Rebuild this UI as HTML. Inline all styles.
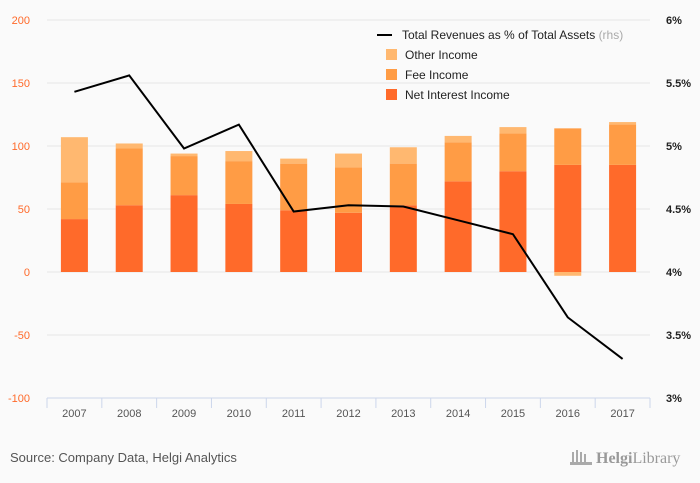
<!DOCTYPE html>
<html><head><meta charset="utf-8"><style>
html,body{margin:0;padding:0;background:#fafafa;font-family:"Liberation Sans",sans-serif;overflow:hidden}
svg{display:block}
</style></head><body>
<svg id="c" width="700" height="483" xmlns="http://www.w3.org/2000/svg">
<rect width="700" height="483" fill="#fafafa"/>
<g id="grid"></g><g id="bars"></g><g id="line"></g><g id="axes"></g>
<g font-size="12" fill="#222">
<line x1="377" y1="35" x2="392" y2="35" stroke="#000" stroke-width="2"/>
<text x="402" y="39">Total Revenues as % of Total Assets <tspan fill="#aaa">(rhs)</tspan></text>
<rect x="386" y="49" width="11" height="11" fill="#ffb870"/>
<text x="405" y="59">Other Income</text>
<rect x="386" y="69" width="11" height="11" fill="#ff9c45"/>
<text x="405" y="79">Fee Income</text>
<rect x="386" y="89" width="11" height="11" fill="#ff6a2a"/>
<text x="405" y="99">Net Interest Income</text>
</g>
<text x="10" y="462" font-size="13" fill="#555">Source: Company Data, Helgi Analytics</text>
<text x="596" y="463" font-size="16" fill="#999" font-family="Liberation Serif,serif"><tspan font-weight="bold">Helgi</tspan>Library</text>
<g fill="#aaa"><rect x="572" y="452" width="2" height="12"/><rect x="576" y="450" width="2" height="14"/><rect x="580" y="452" width="2" height="12"/><rect x="584" y="454" width="2" height="10"/><rect x="570" y="462" width="22" height="3"/></g>
</svg>
<script>
const categories=["2007","2008","2009","2010","2011","2012","2013","2014","2015","2016","2017"];
const netInterest=[42,53,61,54,49,47,53,72,80,85,85];
const feeIncome=[29,45,31,34,37,36,33,31,30,29,32];
const otherIncome=[36,4,2,8,4,11,13,5,5,-3,2];
const revPct=[5.43,5.56,4.98,5.17,4.48,4.53,4.52,4.41,4.30,3.64,3.31];
const leftTicks=[200,150,100,50,0,-50,-100];
const rightTicks=[6,5.5,5,4.5,4,3.5,3];
const NS="http://www.w3.org/2000/svg";
const x0=47,x1=650,yT=20,yB=398;
const step=(x1-x0)/categories.length;
const xC=i=>x0+step*(i+0.5);
const yL=v=>yB-(v+100)/300*(yB-yT);
const yR=v=>yB-(v-3)/3*(yB-yT);
function mk(tag,attrs,parent){const e=document.createElementNS(NS,tag);for(const k in attrs)e.setAttribute(k,attrs[k]);document.getElementById(parent).appendChild(e);return e;}
leftTicks.forEach((t,i)=>{
 const y=yL(t);
 if(t!==-100){const g=mk("line",{x1:x0,x2:x1,y1:y,y2:y,stroke:"#e6e6e6"},"grid");
 
 }
 const l=mk("text",{x:30,y:y+4,"text-anchor":"end","font-size":"11",fill:"#ff6a2a"},"axes");l.textContent=t;
 
 
});
rightTicks.forEach(t=>{
 const r=mk("text",{x:666,y:yR(t)+4,"font-size":"11","font-weight":"bold",fill:"#222"},"axes");r.textContent=t+"%";
 
 
});
const ax=mk("line",{x1:x0,x2:x1,y1:yB,y2:yB,stroke:"#ccd6eb"},"axes");


for(let i=0;i<=categories.length;i++){const tk=mk("line",{x1:x0+step*i,x2:x0+step*i,y1:yB,y2:yB+10,stroke:"#ccd6eb"},"axes");
 
 }
const bw=27;
categories.forEach((c,i)=>{
 const lb=mk("text",{x:xC(i),y:yB+19,"text-anchor":"middle","font-size":"11",fill:"#555"},"axes");lb.textContent=c;
 
 
 const n=netInterest[i],f=feeIncome[i],o=otherIncome[i];
 const b1=mk("rect",{x:xC(i)-bw/2,y:yL(n),width:bw,height:yL(0)-yL(n),fill:"#ff6a2a"},"bars");
 
 
 const b2=mk("rect",{x:xC(i)-bw/2,y:yL(n+f),width:bw,height:yL(n)-yL(n+f),fill:"#ff9c45"},"bars");
 
 
 let oy,oh;
 if(o>=0){oy=yL(n+f+o);oh=yL(n+f)-oy;}else{oy=yL(0);oh=yL(o)-yL(0);}
 const b3=mk("rect",{x:xC(i)-bw/2,y:oy,width:bw,height:oh,fill:"#ffb870"},"bars");
 
 
});
const pts=revPct.map((v,i)=>xC(i)+","+yR(v)).join(" ");
const pl=mk("polyline",{points:pts,fill:"none",stroke:"#000","stroke-width":"2"},"line");


</script>
</body></html>
